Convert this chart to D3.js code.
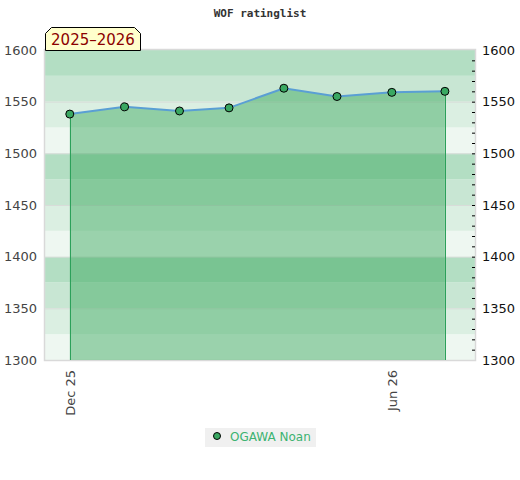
<html>
<head>
<style>
  body { margin: 0; background: #fff; }
  svg { display: block; }
</style>
</head>
<body>
<svg width="520" height="480"></svg>
<script src="https://cdn.jsdelivr.net/npm/d3@7/dist/d3.min.js"></script>
<script>
    // data
    const dates = ['2025-12-01', '2026-01-01', '2026-02-01', '2026-03-01',
                   '2026-04-01', '2026-05-01', '2026-06-01', '2026-07-01'];
    const ratings = [1538, 1545, 1541, 1544, 1563, 1555, 1559, 1560];
    const yTicks = [1300, 1350, 1400, 1450, 1500, 1550, 1600];
    const xTicks = ['2025-12-01', '2026-06-01'];
    const bandColors = ['#eef7f1', '#dbefe2', '#c8e6d3', '#b3dec3'];
    const seriesName = 'OGAWA Noan';
    const seasonLabel = '2025\u20132026';
    const chartTitle = 'WOF ratinglist';

    const svg = d3.select('svg');
    const plot = {left: 45, right: 475, top: 50, bottom: 360};
    const parse = d3.timeParse('%Y-%m-%d');
    const points = dates.map((d, i) => ({date: parse(d), value: ratings[i]}));

    const x = d3.scaleTime()
        .domain([parse('2025-11-17'), parse('2026-07-18')])
        .range([plot.left, plot.right]);
    const y = d3.scaleLinear().domain([1300, 1600]).range([plot.bottom, plot.top]);

    // background bands every 25
    const bands = d3.range(1300, 1600, 25);
    svg.selectAll('rect.band').data(bands).enter()
        .append('rect')
        .attr('x', plot.left)
        .attr('width', plot.right - plot.left)
        .attr('y', d => y(d + 25))
        .attr('height', d => y(d) - y(d + 25))
        .attr('fill', d => bandColors[((d - 1300) / 25) % 4]);

    svg.selectAll('line.grid').data(yTicks.slice(1, -1)).enter()
        .append('line')
        .attr('x1', plot.left).attr('x2', plot.right)
        .attr('y1', d => y(d) + 0.5).attr('y2', d => y(d) + 0.5)
        .attr('stroke', '#d8dcd9').attr('stroke-width', 1);

    svg.append('rect')
        .attr('x', plot.left - 0.5).attr('y', plot.top - 0.5)
        .attr('width', plot.right - plot.left + 1).attr('height', plot.bottom - plot.top + 1)
        .attr('fill', 'none').attr('stroke', '#d9d9d9').attr('stroke-width', 1.5);

    // area under the series
    const area = d3.area()
        .x(d => x(d.date))
        .y0(y(1300))
        .y1(d => y(d.value));
    svg.append('path')
        .datum(points)
        .attr('d', area)
        .attr('fill', '#30a355')
        .attr('fill-opacity', 0.44);

    const first = points[0], last = points[points.length - 1];
    [first, last].forEach(p => {
        svg.append('line')
            .attr('x1', Math.round(x(p.date)) + 0.5).attr('x2', Math.round(x(p.date)) + 0.5)
            .attr('y1', y(p.value)).attr('y2', y(1300))
            .attr('stroke', '#2ca05a').attr('stroke-width', 1);
    });

    const line = d3.line().x(d => x(d.date)).y(d => y(d.value));
    svg.append('path')
        .datum(points)
        .attr('d', line)
        .attr('fill', 'none')
        .attr('stroke', '#5a9fd4')
        .attr('stroke-width', 2);

    svg.selectAll('circle.pt').data(points).enter()
        .append('circle')
        .attr('cx', d => x(d.date))
        .attr('cy', d => y(d.value))
        .attr('r', 4)
        .attr('fill', '#3aa862')
        .attr('stroke', '#000')
        .attr('stroke-width', 1);

    // left axis
    const leftAxis = svg.append('g')
        .attr('transform', 'translate(' + plot.left + ',0)')
        .call(d3.axisLeft(y).tickValues(yTicks).tickSize(0).tickPadding(8).tickFormat(d3.format('d')));
    leftAxis.select('.domain').remove();
    leftAxis.selectAll('text')
        .attr('font-family', 'DejaVu Sans, sans-serif').attr('font-size', 13).attr('fill', '#444');

    // right axis with minor ticks
    const rightAxis = svg.append('g')
        .attr('transform', 'translate(' + plot.right + ',0)')
        .call(d3.axisLeft(y).tickValues(d3.range(1310, 1600, 10)).tickSize(3).tickFormat(''));
    rightAxis.select('.domain').remove();
    rightAxis.selectAll('line').attr('stroke', '#000');

    const rightLabels = svg.append('g')
        .attr('transform', 'translate(' + plot.right + ',0)')
        .call(d3.axisRight(y).tickValues(yTicks).tickSize(0).tickPadding(7).tickFormat(d3.format('d')));
    rightLabels.select('.domain').remove();
    rightLabels.selectAll('text')
        .attr('font-family', 'DejaVu Sans, sans-serif').attr('font-size', 13).attr('fill', '#111');

    // x axis, rotated labels
    const xAxis = svg.append('g')
        .attr('transform', 'translate(0,' + plot.bottom + ')')
        .call(d3.axisBottom(x).tickValues(xTicks.map(parse)).tickSize(0).tickFormat(d3.timeFormat('%b %y')));
    xAxis.select('.domain').remove();
    xAxis.selectAll('text')
        .attr('font-family', 'DejaVu Sans, sans-serif').attr('font-size', 13).attr('fill', '#444')
        .attr('transform', 'rotate(-90)')
        .attr('text-anchor', 'end')
        .attr('x', -10).attr('y', 0).attr('dy', '0.35em');

    // title
    svg.append('text')
        .attr('x', 260).attr('y', 17)
        .attr('text-anchor', 'middle')
        .attr('font-family', 'DejaVu Sans Mono, monospace')
        .attr('font-weight', 'bold')
        .attr('font-size', 11)
        .attr('fill', '#333')
        .text(chartTitle);

    // season tag
    svg.append('path')
        .attr('d', 'M45.5,50.5 L45.5,33.5 L51.5,27.5 L134.5,27.5 L140.5,33.5 L140.5,50.5 Z')
        .attr('fill', '#ffffcc')
        .attr('stroke', '#000')
        .attr('stroke-width', 1);
    svg.append('text')
        .attr('x', 93).attr('y', 45)
        .attr('text-anchor', 'middle')
        .attr('font-family', 'DejaVu Sans, sans-serif')
        .attr('font-size', 15)
        .attr('fill', '#8b0000')
        .text(seasonLabel);

    // legend
    const legend = svg.append('g').attr('transform', 'translate(205,428)');
    legend.append('rect').attr('width', 111).attr('height', 19).attr('fill', '#f0f0f0');
    legend.append('circle').attr('cx', 12).attr('cy', 8).attr('r', 3.5)
        .attr('fill', '#3aa862').attr('stroke', '#000').attr('stroke-width', 1);
    legend.append('text').attr('x', 25).attr('y', 12.5)
        .attr('font-family', 'DejaVu Sans, sans-serif').attr('font-size', 12)
        .attr('fill', '#3cb371')
        .text(seriesName);
</script>
</body>
</html>
